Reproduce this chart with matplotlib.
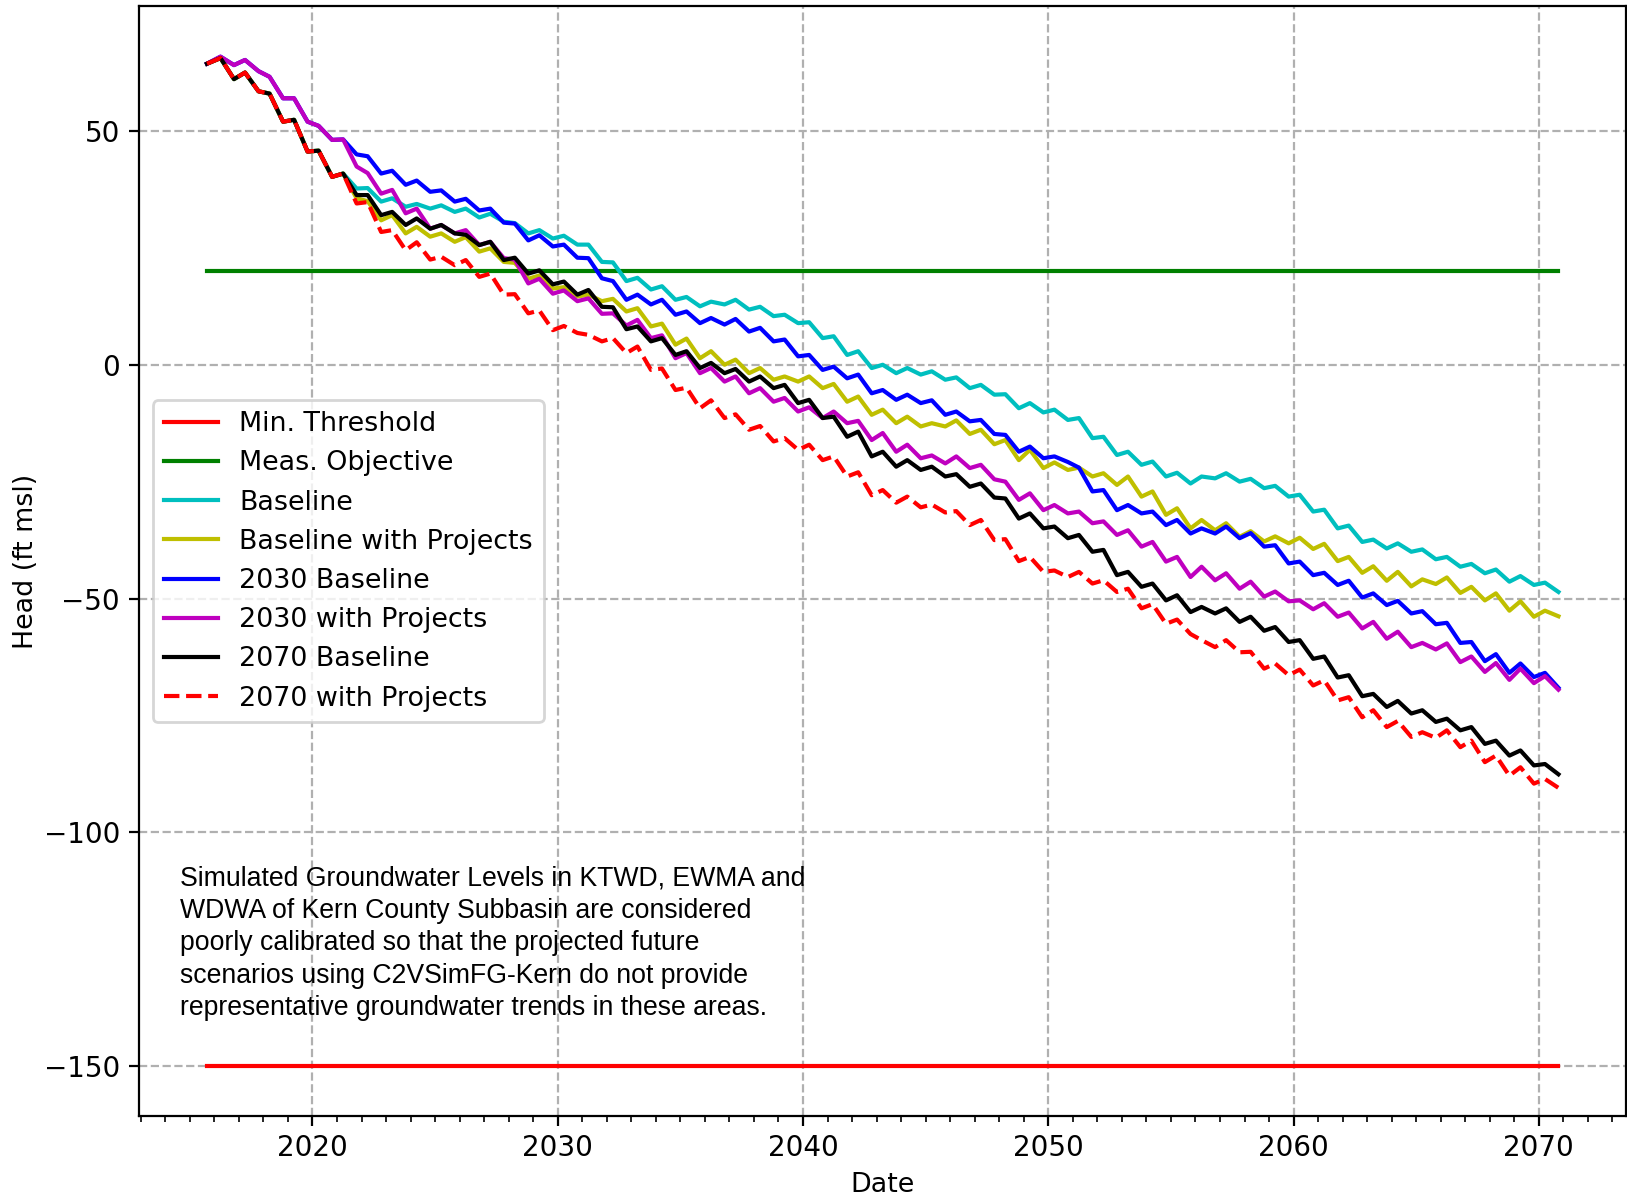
import numpy as np
import matplotlib
matplotlib.use("Agg")
import matplotlib.pyplot as plt
from matplotlib.ticker import MultipleLocator

# sample times: first record, then spring high / autumn low of each year
years = list(range(2016, 2071))
times = [2015.7]
for y in years:
    times += [y + 0.25, y + 0.8]
times = np.array(times)

meas_objective = 20.0
min_threshold = -150.0

# heads (ft msl), one row per few years
upper_start = [64.4, 65.9, 64.1, 65.2, 62.8, 61.6, 57.0, 57.0, 52.0, 51.1, 48.1, 48.2]
lower_start = [64.4, 65.6, 61.1, 62.5, 58.5, 58.0, 52.0, 52.4, 45.6, 45.8, 40.2, 40.9]

baseline = lower_start + [
    37.7, 37.8, 34.9, 35.6, 33.8, 34.4, 33.4, 34.1, 32.7, 33.4, 31.5, 32.3, 30.6,
    30.3, 28.1, 28.8, 27.0, 27.6, 25.7, 25.7, 22.0, 21.9, 17.9, 18.6, 16.1,
    16.8, 13.9, 14.5, 12.5, 13.5, 12.9, 13.9, 11.8, 12.4, 10.4, 10.7, 8.9,
    9.1, 5.7, 6.1, 2.1, 2.9, -0.7, 0.0, -1.8, -0.7, -2.1, -1.4, -3.2,
    -2.7, -5.0, -4.3, -6.4, -6.3, -9.3, -8.2, -10.2, -9.6, -11.8, -11.4, -15.7,
    -15.4, -19.3, -18.6, -21.4, -20.7, -23.9, -23.1, -25.4, -23.9, -24.3, -23.2, -25.0,
    -24.4, -26.4, -25.9, -28.2, -27.8, -31.4, -31.0, -35.0, -34.4, -37.9, -37.4, -39.3,
    -38.2, -40.0, -39.5, -41.6, -41.1, -43.2, -42.6, -44.6, -43.8, -46.4, -45.2, -47.1,
    -46.6, -48.6]

baseline_proj = lower_start + [
    35.6, 35.0, 30.9, 32.0, 28.1, 29.5, 27.4, 28.1, 26.3, 27.3, 24.2, 24.9, 22.0,
    21.8, 18.4, 19.1, 16.3, 16.6, 14.6, 15.0, 13.6, 14.1, 11.4, 12.1, 8.2,
    8.8, 4.3, 5.6, 1.4, 2.9, 0.0, 1.1, -1.8, -0.7, -3.2, -2.5, -3.6,
    -2.5, -5.0, -4.1, -7.9, -6.8, -10.7, -9.6, -12.5, -11.1, -13.2, -12.5, -13.2,
    -11.9, -14.8, -13.9, -17.0, -16.1, -20.4, -18.2, -22.1, -20.9, -22.5, -22.0, -23.9,
    -23.2, -25.7, -23.9, -28.2, -27.1, -32.1, -30.7, -35.0, -33.2, -35.4, -33.9, -36.8,
    -35.6, -37.8, -36.7, -38.2, -37.0, -39.4, -38.3, -42.0, -41.1, -44.5, -43.1, -46.2,
    -44.3, -47.4, -45.9, -46.9, -45.5, -48.8, -47.5, -50.4, -48.9, -52.6, -50.6, -53.9,
    -52.6, -53.8]

base_2030 = upper_start + [
    45.0, 44.6, 40.9, 41.5, 38.5, 39.4, 37.0, 37.3, 34.9, 35.5, 33.0, 33.4, 30.4,
    30.2, 26.6, 27.7, 25.3, 25.7, 22.9, 22.8, 18.5, 17.9, 13.9, 15.0, 12.9,
    13.9, 10.7, 11.4, 8.9, 10.0, 8.6, 9.8, 7.1, 7.9, 5.0, 5.4, 1.8,
    2.1, -1.1, -0.4, -2.9, -2.1, -6.1, -5.4, -7.5, -6.4, -8.2, -7.6, -10.7,
    -10.0, -12.1, -11.8, -14.8, -15.0, -18.6, -17.5, -20.0, -19.6, -20.8, -22.0, -27.1,
    -26.8, -31.1, -30.0, -31.8, -31.4, -34.3, -33.2, -36.1, -35.0, -36.1, -34.6, -37.1,
    -36.0, -38.9, -38.6, -42.5, -42.1, -45.0, -44.5, -47.1, -46.2, -49.8, -48.9, -51.4,
    -50.5, -53.2, -52.7, -55.5, -55.2, -59.5, -59.3, -63.4, -61.9, -65.9, -63.9, -66.8,
    -65.9, -69.1]

proj_2030 = upper_start + [
    42.4, 41.0, 36.6, 37.4, 32.4, 33.4, 29.1, 29.9, 28.1, 28.8, 25.6, 26.3, 22.8,
    22.5, 17.4, 18.4, 15.2, 15.9, 13.6, 14.2, 10.9, 11.0, 8.4, 9.6, 5.7,
    6.3, 1.4, 2.5, -1.8, -0.7, -3.6, -2.5, -6.1, -5.0, -7.9, -7.1, -10.0,
    -9.1, -11.4, -10.0, -12.5, -12.0, -16.1, -14.6, -18.6, -17.1, -20.0, -19.4, -21.1,
    -19.6, -22.1, -21.4, -24.5, -25.0, -28.9, -27.5, -31.1, -30.0, -31.8, -31.4, -33.9,
    -33.5, -36.4, -35.4, -38.9, -37.9, -42.1, -41.1, -45.4, -43.2, -46.1, -44.6, -47.9,
    -46.4, -49.6, -48.5, -50.6, -50.4, -52.3, -51.0, -53.9, -53.0, -56.4, -55.0, -58.6,
    -57.1, -60.4, -59.5, -60.9, -59.6, -63.6, -62.4, -65.7, -63.8, -67.4, -65.0, -68.1,
    -66.6, -69.5]

base_2070 = lower_start + [
    36.3, 36.3, 32.0, 32.7, 29.9, 31.3, 29.1, 29.9, 28.1, 27.8, 25.6, 26.3, 22.4,
    22.9, 19.5, 20.2, 17.2, 17.8, 15.0, 16.0, 12.4, 12.3, 7.6, 8.2, 5.0,
    5.7, 2.1, 2.9, -0.7, 0.4, -1.8, -0.9, -3.6, -2.5, -5.0, -4.3, -8.2,
    -7.5, -11.4, -11.1, -15.4, -14.3, -19.6, -18.6, -21.8, -20.4, -22.5, -21.8, -23.9,
    -23.4, -26.1, -25.4, -28.4, -28.6, -32.9, -31.8, -35.0, -34.6, -37.1, -36.4, -40.0,
    -39.6, -45.0, -44.3, -47.5, -46.8, -50.4, -49.3, -52.9, -51.8, -53.2, -52.1, -55.0,
    -53.9, -56.9, -56.1, -59.3, -58.9, -62.9, -62.4, -66.9, -66.4, -70.9, -70.4, -73.2,
    -71.9, -74.6, -73.9, -76.4, -75.7, -78.2, -77.5, -81.1, -80.4, -83.6, -82.5, -85.7,
    -85.4, -87.6]

proj_2070 = lower_start + [
    34.5, 34.8, 28.4, 28.8, 24.5, 26.2, 22.5, 23.1, 21.3, 22.4, 18.8, 19.5, 15.0,
    15.1, 11.0, 11.6, 7.4, 8.3, 6.8, 6.4, 5.0, 5.7, 2.5, 3.9, -1.1,
    -0.8, -5.4, -4.9, -9.3, -7.6, -11.4, -10.6, -13.9, -13.1, -16.4, -15.7, -18.2,
    -17.1, -20.4, -19.6, -23.9, -23.0, -27.9, -26.8, -29.5, -28.2, -30.5, -29.9, -31.6,
    -31.3, -34.3, -33.2, -37.5, -37.3, -42.0, -41.1, -44.3, -44.0, -45.4, -44.3, -46.8,
    -46.1, -48.6, -47.9, -52.1, -51.2, -55.4, -54.5, -57.6, -58.9, -60.4, -58.9, -61.5,
    -61.4, -65.0, -63.9, -66.4, -65.2, -68.6, -67.5, -71.8, -71.1, -75.4, -73.9, -77.5,
    -76.2, -79.6, -78.6, -79.8, -78.2, -81.8, -80.4, -85.0, -83.6, -87.9, -86.1, -89.6,
    -88.6, -90.5]

note = ("Simulated Groundwater Levels in KTWD, EWMA and\n"
        "WDWA of Kern County Subbasin are considered\n"
        "poorly calibrated so that the projected future\n"
        "scenarios using C2VSimFG-Kern do not provide\n"
        "representative groundwater trends in these areas.")

fig = plt.figure(figsize=(8.135, 5.975), dpi=200)
ax = fig.add_axes([0.0857, 0.0657, 0.9137, 0.9291])

ax.plot(times, np.full(len(times), min_threshold), 'r', label='Min. Threshold')
ax.plot(times, np.full(len(times), meas_objective), 'g', label='Meas. Objective')
ax.plot(times, baseline, 'c', label='Baseline')
ax.plot(times, baseline_proj, 'y', label='Baseline with Projects')
ax.plot(times, base_2030, 'b', label='2030 Baseline')
ax.plot(times, proj_2030, 'm', label='2030 with Projects')
ax.plot(times, base_2070, 'k', label='2070 Baseline')
ax.plot(times, proj_2070, 'r--', label='2070 with Projects')

ax.xaxis.set_minor_locator(MultipleLocator(1))
ax.ticklabel_format(axis='x', useOffset=False)
ax.tick_params(axis='x', which='major', pad=2.8)
ax.grid(True, linestyle='--')
ax.set_xlabel('Date', fontsize=9.7, labelpad=3.5)
ax.set_ylabel('Head (ft msl)', fontsize=9.7, labelpad=1.5)
ax.legend(loc='center left', fontsize=9.7, labelspacing=0.49)

ax.text(0.027, 0.226, note, transform=ax.transAxes, va='top', ha='left',
        fontsize=9.6, linespacing=1.32, family='Liberation Sans')

fig.savefig('out.png', dpi=200)
